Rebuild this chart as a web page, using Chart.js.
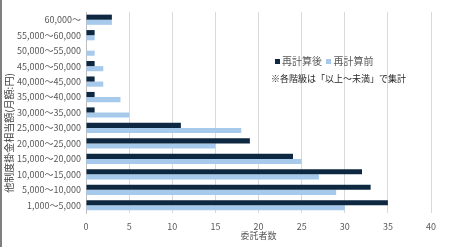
<!DOCTYPE html>
<html><head><meta charset="utf-8">
<script src="https://cdn.jsdelivr.net/npm/chart.js@4/dist/chart.umd.min.js"></script>
<style>
html,body{margin:0;padding:0;background:#fff;}
#wrap{position:relative;width:450px;height:247px;overflow:hidden;}
#wrap:before{content:"";position:absolute;left:0;top:0;width:2px;height:247px;background:#7f7f7f;z-index:2;}
canvas{position:absolute;left:0;top:0;}
.ov{position:absolute;font-family:"Noto Sans CJK JP",sans-serif;font-size:10px;color:#404040;white-space:nowrap;line-height:1;}
.sw{display:inline-block;width:5px;height:5px;margin-right:2px;vertical-align:1px;}
#yt{left:9px;top:133px;transform:translate(-50%,-50%) rotate(-90deg);color:#404040;}
</style></head>
<body><div id="wrap"><canvas id="c" width="450" height="247"></canvas>
<div class="ov" style="left:275px;top:56px;color:#595959"><span class="sw" style="background:#0e2841"></span>再計算後 &nbsp;<span class="sw" style="background:#a6c9ec"></span>再計算前</div>
<div class="ov" id="note" style="left:271px;top:74px;color:#262626;font-size:9px"></div>
<div class="ov" id="yt"></div>
</div>
<script>
const categories = ["60,000～","55,000～60,000","50,000～55,000","45,000～50,000","40,000～45,000","35,000～40,000","30,000～35,000","25,000～30,000","20,000～25,000","15,000～20,000","10,000～15,000","5,000～10,000","1,000～5,000"];
const afterRecalc = [3,1,0,1,1,1,1,11,19,24,32,33,35];
const beforeRecalc = [3,1,1,2,2,4,5,18,15,25,27,29,30];
const seriesNames = ["再計算後","再計算前"];
const xTitle = "委託者数";
const yTitle = "他制度掛金相当額(月額:円)";
const noteText = "※各階級は「以上～未満」で集計";
document.getElementById('yt').textContent = yTitle;
document.getElementById('note').textContent = noteText;
const F = "'Noto Sans CJK JP', sans-serif";
new Chart(document.getElementById('c'), {
  type: 'bar',
  data: {
    labels: categories,
    datasets: [
      {label: seriesNames[0], data: afterRecalc, backgroundColor: '#0e2841', borderWidth: 0},
      {label: seriesNames[1], data: beforeRecalc, backgroundColor: '#a6c9ec', borderWidth: 0}
    ]
  },
  options: {
    indexAxis: 'y',
    responsive: false,
    animation: false,
    layout: {padding: {top: 12, right: 19, left: 2, bottom: 6}},
    plugins: {legend: {display: false}, tooltip: {enabled: false}},
    datasets: {bar: {categoryPercentage: 0.66, barPercentage: 1}},
    scales: {
      x: {
        min: 0, max: 40,
        ticks: {stepSize: 5, color: '#595959', font: {family: F, size: 9}, padding: 8},
        grid: {color: '#d9d9d9', drawTicks: false},
        border: {display: false},
        title: {display: true, text: xTitle, color: '#595959', font: {family: F, size: 9}, padding: {top: 2, bottom: 0}},
        afterFit: s => { s.height = 28; }
      },
      y: {
        ticks: {color: '#595959', font: {family: F, size: 9}, padding: 5, autoSkip: false},
        grid: {display: false, drawTicks: false},
        border: {display: true, color: '#bfbfbf'},
        title: {display: false},
        afterFit: s => { s.width = 84; }
      }
    }
  }
});
</script></body></html>
